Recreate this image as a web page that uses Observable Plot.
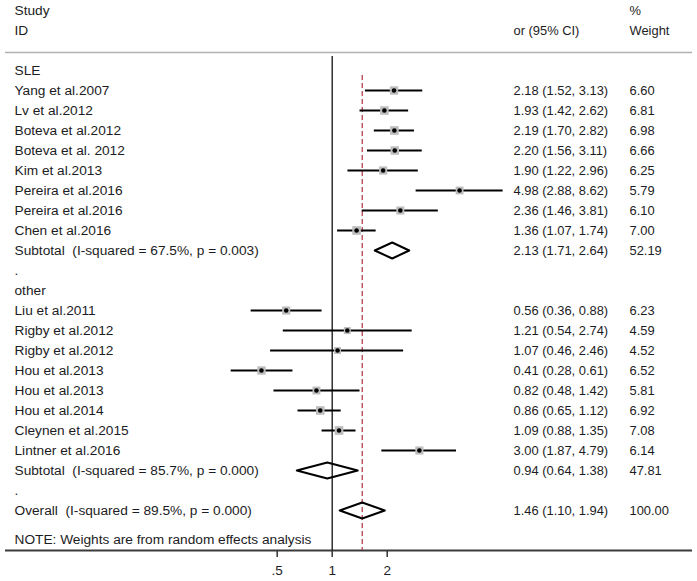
<!DOCTYPE html>
<html>
<head>
<meta charset="utf-8">
<script src="https://cdn.jsdelivr.net/npm/d3@7"></script>
<script src="https://cdn.jsdelivr.net/npm/@observablehq/plot@0.6"></script>
<style>
  html, body { margin: 0; padding: 0; background: #fff; }
  svg text { white-space: pre; }
</style>
</head>
<body>
<div id="chart"></div>
<script>
// ---- data ----
const groupLabels = ["SLE", "other"];
const groupRows = [0, 11];
const spacerRows = [10, 21];

const studies = ["Yang et al.2007","Lv et al.2012","Boteva et al.2012","Boteva et al. 2012","Kim et al.2013","Pereira et al.2016","Pereira et al.2016","Chen et al.2016","Liu et al.2011","Rigby et al.2012","Rigby et al.2012","Hou et al.2013","Hou et al.2013","Hou et al.2014","Cleynen et al.2015","Lintner et al.2016"];
const studyRows = [1,2,3,4,5,6,7,8,12,13,14,15,16,17,18,19];
const studyOR = [2.18,1.93,2.19,2.20,1.90,4.98,2.36,1.36,0.56,1.21,1.07,0.41,0.82,0.86,1.09,3.00];
const studyLo = [1.52,1.42,1.70,1.56,1.22,2.88,1.46,1.07,0.36,0.54,0.46,0.28,0.48,0.65,0.88,1.87];
const studyHi = [3.13,2.62,2.82,3.11,2.96,8.62,3.81,1.74,0.88,2.74,2.46,0.61,1.42,1.12,1.35,4.79];
const studyWeight = [6.60,6.81,6.98,6.66,6.25,5.79,6.10,7.00,6.23,4.59,4.52,6.52,5.81,6.92,7.08,6.14];

const pooledLabels = ["Subtotal  (I-squared = 67.5%, p = 0.003)","Subtotal  (I-squared = 85.7%, p = 0.000)","Overall  (I-squared = 89.5%, p = 0.000)"];
const pooledRows = [9, 20, 22];
const pooledOR = [2.13, 0.94, 1.46];
const pooledLo = [1.71, 0.64, 1.10];
const pooledHi = [2.64, 1.38, 1.94];
const pooledWeight = [52.19, 47.81, 100.00];

const noteText = "NOTE: Weights are from random effects analysis";
const noteRow = 23.45;

const headerLeft = ["Study", "ID"];
const headerMid = ["", "or (95% CI)"];
const headerRight = ["%", "Weight"];
const headerRows = [-3, -2];

const tickValues = [0.5, 1, 2];
const tickLabels = [".5", "1", "2"];

// ---- derived tables ----
const f2 = d3.format(".2f");
const studyTable = studies.map((s, i) => ({
  label: s, row: studyRows[i], or: studyOR[i], lo: studyLo[i], hi: studyHi[i], w: studyWeight[i],
  ci: `${f2(studyOR[i])} (${f2(studyLo[i])}, ${f2(studyHi[i])})`, wt: f2(studyWeight[i])
}));
const pooledTable = pooledLabels.map((s, i) => ({
  label: s, row: pooledRows[i], or: pooledOR[i], lo: pooledLo[i], hi: pooledHi[i],
  ci: `${f2(pooledOR[i])} (${f2(pooledLo[i])}, ${f2(pooledHi[i])})`, wt: f2(pooledWeight[i])
}));
const half = 0.4;
const diamondPts = pooledTable.flatMap((p, i) => [
  {x: p.lo, y: p.row, z: i},
  {x: p.or, y: p.row - half, z: i},
  {x: p.hi, y: p.row, z: i},
  {x: p.or, y: p.row + half, z: i},
  {x: p.lo, y: p.row, z: i}
]);
const leftTexts = [
  ...headerLeft.map((t, i) => ({t, row: headerRows[i]})),
  ...groupLabels.map((t, i) => ({t, row: groupRows[i]})),
  ...spacerRows.map(r => ({t: ".", row: r})),
  ...studyTable.map(d => ({t: d.label, row: d.row})),
  ...pooledTable.map(d => ({t: d.label, row: d.row})),
  {t: noteText, row: noteRow}
];
const midTexts = [
  ...headerMid.map((t, i) => ({t, row: headerRows[i]})),
  ...studyTable.map(d => ({t: d.ci, row: d.row})),
  ...pooledTable.map(d => ({t: d.ci, row: d.row}))
];
const rightTexts = [
  ...headerRight.map((t, i) => ({t, row: headerRows[i]})),
  ...studyTable.map(d => ({t: d.wt, row: d.row})),
  ...pooledTable.map(d => ({t: d.wt, row: d.row}))
];
const overall = pooledOR[pooledOR.length - 1];
const lastRow = pooledRows[pooledRows.length - 1];

const textColor = "#1c1c24";
const chart = Plot.plot({
  width: 697,
  height: 581,
  marginLeft: 5,
  marginRight: 5,
  marginTop: 0,
  marginBottom: 31,
  style: "font-family: 'Liberation Sans', Arial, sans-serif; font-size: 13px; background: #fff; color: #1c1c24;",
  x: {type: "log", domain: [0.5, 2], range: [276.7, 386.7], axis: null},
  y: {domain: [0, 22], range: [70, 510], axis: null},
  r: {type: "sqrt", domain: [0, 7.08], range: [0, 4.9]},
  marks: [
    Plot.ruleY([-0.9], {stroke: "#b0b0b0", strokeWidth: 1.5}),
    Plot.ruleY([lastRow + 2], {stroke: "#3a3a3a", strokeWidth: 1.8}),
    Plot.ruleX([1], {y1: -0.7, y2: lastRow + 2, stroke: "#111", strokeWidth: 1.3}),
    Plot.ruleX([overall], {y1: 0.25, y2: lastRow + 2, stroke: "#b5404c", strokeWidth: 1.3, strokeDasharray: "5,3"}),
    Plot.ruleY(studyTable, {y: "row", x1: "lo", x2: "hi", stroke: "#000", strokeWidth: 2}),
    Plot.dot(studyTable, {x: "or", y: "row", r: "w", symbol: "square", fill: "#bdbdbd"}),
    Plot.dot(studyTable, {x: "or", y: "row", r: 2.3, fill: "#000"}),
    Plot.line(diamondPts, {x: "x", y: "y", z: "z", stroke: "#000", strokeWidth: 2, curve: "linear"}),
    Plot.text(leftTexts, {y: "row", text: "t", frameAnchor: "left", dx: 9, textAnchor: "start", fill: textColor, fontSize: 13.7}),
    Plot.text(midTexts, {y: "row", text: "t", frameAnchor: "right", dx: -179, textAnchor: "start", fill: textColor, fontSize: 12.9}),
    Plot.text(rightTexts, {y: "row", text: "t", frameAnchor: "right", dx: -63, textAnchor: "start", fill: textColor, fontSize: 12.9}),
    Plot.axisX({ticks: tickValues, tickFormat: d => tickLabels[tickValues.indexOf(d)], tickSize: 7, tickPadding: 8, stroke: "#333", strokeWidth: 1.5, fill: textColor, fontSize: 13.5, label: null})
  ]
});
document.getElementById("chart").appendChild(chart);
</script>
</body>
</html>
